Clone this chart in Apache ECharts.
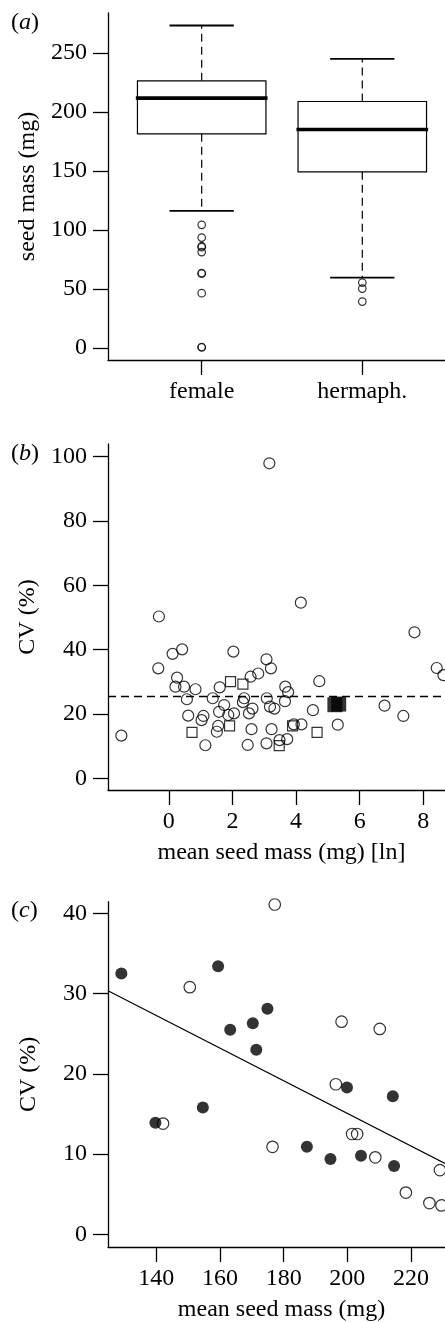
<!DOCTYPE html>
<html>
<head>
<meta charset="utf-8">
<script src="https://cdn.jsdelivr.net/npm/echarts@6.0.0/dist/echarts.min.js"></script>
<style>
html,body{margin:0;padding:0;background:#fff;}
#chart{width:445px;height:1323px;}
</style>
</head>
<body>
<div id="chart"></div>
<script>
// ---------- Panel (a): box plot data ----------
const boxCategories = ['female', 'hermaph.'];
const boxLow    = [116.4, 59.8];
const boxQ1     = [181.6, 149.4];
const boxMedian = [211.9, 185.3];
const boxQ3     = [226.5, 209.0];
const boxHigh   = [273.4, 245.2];
const femaleOutliers = [104.5, 93.7, 86.4, 85.6, 81.4, 63.7, 63.1, 46.6, 1.0, 0.6];
const hermaphOutliers = [55.6, 50.5, 39.5];
const aTicksY = [0, 50, 100, 150, 200, 250];

// ---------- Panel (b) ----------
const bCircles = [
  [-1.49, 13.3], [-0.31, 50.3], [-0.33, 34.2], [0.12, 38.7], [0.42, 40.1],
  [0.26, 31.3], [0.21, 28.5], [0.48, 28.5], [0.84, 27.7], [0.57, 24.6],
  [0.61, 19.5], [1.03, 18.1], [1.09, 19.4], [1.15, 10.3], [1.38, 24.9],
  [1.51, 14.5], [1.55, 16.3], [1.60, 28.3], [1.58, 20.7], [1.74, 22.8],
  [1.87, 19.7], [2.05, 20.2], [2.03, 39.4], [2.37, 24.9], [2.33, 23.7],
  [2.52, 20.2], [2.48, 10.4], [2.57, 31.6], [2.63, 21.7], [2.60, 15.3],
  [2.81, 32.6], [3.07, 37.0], [3.21, 34.2], [3.08, 24.9], [3.16, 97.9],
  [3.18, 22.3], [3.32, 21.7], [3.23, 15.3], [3.07, 10.9], [3.48, 11.9],
  [3.72, 12.2], [3.66, 28.5], [3.75, 26.8], [3.65, 24.0], [3.93, 16.8],
  [4.17, 16.8], [4.15, 54.6], [4.53, 21.2], [4.73, 30.2], [5.31, 16.7],
  [6.78, 22.6], [7.37, 19.4], [7.72, 45.4], [8.42, 34.3], [8.63, 32.1]
];
const bSquares = [
  [0.73, 14.3], [1.94, 30.1], [2.33, 29.3], [1.91, 16.3],
  [3.47, 10.2], [3.89, 16.3], [4.66, 14.3]
];
const bFilledSquares = [[5.22, 22.9], [5.34, 23.1]];
const bMeanCV = 25.4;
const bTicksX = [0, 2, 4, 6, 8];
const bTicksY = [0, 20, 40, 60, 80, 100];

// ---------- Panel (c) ----------
const cFilled = [
  [129.0, 32.5], [159.4, 33.4], [163.2, 25.5], [170.3, 26.3], [174.9, 28.1],
  [171.4, 23.0], [139.7, 13.9], [154.6, 15.8], [199.9, 18.3], [214.3, 17.2],
  [187.3, 10.9], [194.7, 9.4], [204.3, 9.8], [214.7, 8.5]
];
const cOpen = [
  [177.2, 41.1], [150.5, 30.8], [198.2, 26.5], [210.2, 25.6], [196.4, 18.7],
  [142.1, 13.8], [176.5, 10.9], [201.5, 12.5], [203.1, 12.5], [208.8, 9.6],
  [218.4, 5.2], [225.8, 3.9], [229.1, 8.0], [229.6, 3.6]
];
const cFitX = [124.8, 230.7];
const cFitY = [30.35, 8.83];
const cTicksX = [140, 160, 180, 200, 220];
const cTicksY = [0, 10, 20, 30, 40];

// ---------- styling ----------
const FONT = 'Liberation Serif';
const FS = 24;
const BLACK = '#000';

function xAxisCfg(gridIndex, min, max, ticks, name, formatter) {
  return {
    type: 'value', gridIndex, min, max, position: 'bottom',
    name: name || '', nameLocation: 'middle', nameGap: 51,
    nameTextStyle: { color: BLACK, fontFamily: FONT, fontSize: FS, padding: [0, 0, 0, 10] },
    axisLine: { show: true, onZero: false, lineStyle: { color: BLACK, width: 1.3 } },
    axisTick: { show: true, length: 15, customValues: ticks, lineStyle: { color: BLACK, width: 1.3 } },
    axisLabel: { show: true, customValues: ticks, color: BLACK, fontFamily: FONT, fontSize: FS, margin: 20,
      formatter: formatter || (v => String(v)) },
    splitLine: { show: false }
  };
}
function yAxisCfg(gridIndex, min, max, ticks, name) {
  return {
    type: 'value', gridIndex, min, max, position: 'left',
    name, nameLocation: 'middle', nameGap: 67, nameRotate: 90,
    nameTextStyle: { color: BLACK, fontFamily: FONT, fontSize: FS },
    axisLine: { show: true, onZero: false, lineStyle: { color: BLACK, width: 1.3 } },
    axisTick: { show: true, length: 15, customValues: ticks, lineStyle: { color: BLACK, width: 1.3 } },
    axisLabel: { show: true, customValues: ticks, color: BLACK, fontFamily: FONT, fontSize: FS, margin: 21 },
    splitLine: { show: false }
  };
}

const openStyle = { color: 'rgba(0,0,0,0)', borderColor: BLACK, borderWidth: 1.2 };

function renderBox(params, api) {
  const x = api.value(0);
  const low = api.value(1), q1 = api.value(2), med = api.value(3), q3 = api.value(4), high = api.value(5);
  const p = (xx, yy) => api.coord([xx, yy]);
  const hw = 0.4, cw = 0.2, mw = 0.41;
  const tl = p(x - hw, q3), br = p(x + hw, q1);
  const line = (a, b, style) => ({ type: 'line', shape: { x1: a[0], y1: a[1], x2: b[0], y2: b[1] }, style });
  const dashed = { stroke: BLACK, lineWidth: 1.2, lineDash: [8, 5] };
  return {
    type: 'group',
    children: [
      line(p(x, q3), p(x, high), dashed),
      line(p(x, q1), p(x, low), dashed),
      { type: 'rect', shape: { x: tl[0], y: tl[1], width: br[0] - tl[0], height: br[1] - tl[1] },
        style: { fill: '#fff', stroke: BLACK, lineWidth: 1.2 } },
      line(p(x - mw, med), p(x + mw, med), { stroke: BLACK, lineWidth: 3.6 }),
      line(p(x - cw, high), p(x + cw, high), { stroke: BLACK, lineWidth: 1.8 }),
      line(p(x - cw, low), p(x + cw, low), { stroke: BLACK, lineWidth: 1.8 })
    ]
  };
}

function panelLabel(letter, y) {
  return {
    type: 'text', left: 11, top: y,
    style: {
      text: '{n|(}{i|' + letter + '}{n|)}',
      rich: {
        n: { fontFamily: FONT, fontSize: FS, fill: BLACK },
        i: { fontFamily: FONT, fontSize: FS, fontStyle: 'italic', fill: BLACK }
      }
    }
  };
}

const chart = echarts.init(document.getElementById('chart'), null, { renderer: 'canvas' });
chart.setOption({
  animation: false,
  backgroundColor: '#fff',
  grid: [
    { left: 108, top: 13, width: 337, height: 347 },
    { left: 108, top: 444, width: 337, height: 346 },
    { left: 108, top: 901.7, width: 337, height: 346 }
  ],
  xAxis: [
    xAxisCfg(0, 0.4166, 2.515, [1, 2], '', v => boxCategories[Math.round(v) - 1] || ''),
    xAxisCfg(1, -1.91, 8.68, bTicksX, 'mean seed mass (mg) [ln]'),
    xAxisCfg(2, 124.8, 230.7, cTicksX, 'mean seed mass (mg)')
  ],
  yAxis: [
    yAxisCfg(0, -10, 284, aTicksY, 'seed mass (mg)'),
    yAxisCfg(1, -3.6, 103.9, bTicksY, 'CV (%)'),
    yAxisCfg(2, -1.58, 41.45, cTicksY, 'CV (%)')
  ],
  graphic: [panelLabel('a', 11), panelLabel('b', 442), panelLabel('c', 899)],
  series: [
    {
      type: 'custom', xAxisIndex: 0, yAxisIndex: 0, clip: false,
      renderItem: renderBox,
      encode: { x: 0, y: [1, 2, 3, 4, 5] },
      data: boxCategories.map((c, i) => [i + 1, boxLow[i], boxQ1[i], boxMedian[i], boxQ3[i], boxHigh[i]]),
      silent: true
    },
    {
      type: 'scatter', xAxisIndex: 0, yAxisIndex: 0, symbol: 'circle', symbolSize: 7.5,
      itemStyle: openStyle, silent: true,
      data: femaleOutliers.map(v => [1, v]).concat(hermaphOutliers.map(v => [2, v]))
    },
    {
      type: 'scatter', xAxisIndex: 1, yAxisIndex: 1, symbol: 'circle', symbolSize: 11,
      itemStyle: openStyle, silent: true, data: bCircles,
      markLine: {
        silent: true, symbol: 'none', label: { show: false },
        lineStyle: { color: BLACK, width: 1.3, type: [8, 5] },
        data: [{ yAxis: bMeanCV }]
      }
    },
    {
      type: 'scatter', xAxisIndex: 1, yAxisIndex: 1, symbol: 'rect', symbolSize: 10,
      itemStyle: openStyle, silent: true, data: bSquares
    },
    {
      type: 'scatter', xAxisIndex: 1, yAxisIndex: 1, symbol: 'rect', symbolSize: 15,
      itemStyle: { color: BLACK }, silent: true, data: bFilledSquares
    },
    {
      type: 'line', xAxisIndex: 2, yAxisIndex: 2, symbol: 'none', silent: true,
      lineStyle: { color: BLACK, width: 1.2 },
      data: cFitX.map((x, i) => [x, cFitY[i]])
    },
    {
      type: 'scatter', xAxisIndex: 2, yAxisIndex: 2, symbol: 'circle', symbolSize: 12,
      itemStyle: { color: BLACK }, silent: true, data: cFilled
    },
    {
      type: 'scatter', xAxisIndex: 2, yAxisIndex: 2, symbol: 'circle', symbolSize: 11.5,
      itemStyle: openStyle, silent: true, data: cOpen
    }
  ]
});
</script>
</body>
</html>
